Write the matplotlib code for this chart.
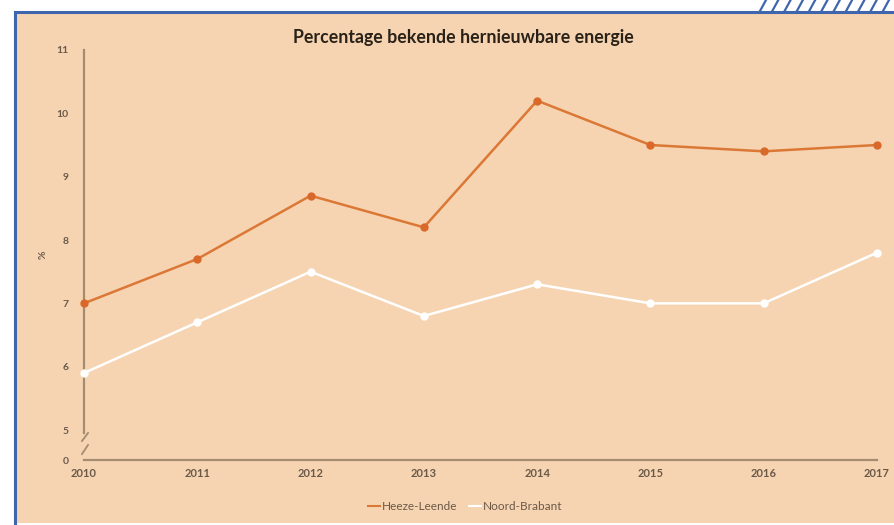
import matplotlib
matplotlib.use("Agg")
import matplotlib.pyplot as plt
from matplotlib.lines import Line2D
from matplotlib.patches import Rectangle

# ---- data ----
years = [2010, 2011, 2012, 2013, 2014, 2015, 2016, 2017]
heeze_leende = [7.0, 7.7, 8.7, 8.2, 10.2, 9.5, 9.4, 9.5]
noord_brabant = [5.9, 6.7, 7.5, 6.8, 7.3, 7.0, 7.0, 7.8]
series_names = ["Heeze-Leende", "Noord-Brabant"]
ytick_values = [5, 6, 7, 8, 9, 10, 11]
ytick_labels = ["5", "6", "7", "8", "9", "10", "11"]
title = "Percentage bekende hernieuwbare energie"

plt.rcParams['font.family'] = ['Lato', 'DejaVu Sans']

W, H = 894, 525
fig = plt.figure(figsize=(W / 100, H / 100), dpi=100)
fig.patch.set_facecolor("white")

def fx(px):
    return px / W

def fy(py):
    return 1 - py / H

peach = "#f6d4b2"
blue = "#3f66ad"
axcol = "#a58c70"
txtcol = "#6b5948"
orange = "#dc7836"

# panel
fig.patches.append(Rectangle((fx(15), fy(523)), 1 - fx(15), fy(12) - fy(523),
                             transform=fig.transFigure, facecolor=peach,
                             edgecolor="none", zorder=-10))
fig.lines.append(Line2D([fx(15), fx(15)], [fy(523), fy(12)], transform=fig.transFigure,
                        color=blue, lw=2.2, zorder=-5))
fig.lines.append(Line2D([fx(15), 1], [fy(12), fy(12)], transform=fig.transFigure,
                        color=blue, lw=2.2, zorder=-5))
# hatch strip top right
x0 = 760
while x0 < W + 6:
    fig.lines.append(Line2D([fx(x0), fx(x0 + 6)], [fy(11), fy(0)], transform=fig.transFigure,
                            color=blue, lw=1.6, zorder=-5))
    x0 += 12.3

# axes
ax = fig.add_axes([fx(84), fy(460), fx(877) - fx(84), fy(50) - fy(460)])
ax.set_zorder(5)
ax.set_facecolor("none")
unit = (430 - 50) / 6.0
ybot = 5 - (460 - 430) / unit
ax.set_xlim(years[0], years[-1])
ax.set_ylim(ybot, 11)

ax.plot(years, heeze_leende, color=orange, lw=1.8, marker="o", ms=5,
        mfc="#d9692a", mec="#d9692a", clip_on=False, zorder=3, label=series_names[0])
ax.plot(years, noord_brabant, color="white", lw=1.8, marker="o", ms=5,
        mfc="white", mec="white", clip_on=False, zorder=3, label=series_names[1])

for s in ["top", "right"]:
    ax.spines[s].set_visible(False)
for s in ["left", "bottom"]:
    ax.spines[s].set_color(axcol)
    ax.spines[s].set_linewidth(1.6)
ax.spines["left"].set_bounds(ybot + 0.42, 11)

ax.set_yticks([ybot] + ytick_values)
ax.set_yticklabels(["0"] + ytick_labels)
ax.set_xticks(years)
ax.set_xticklabels([str(y) for y in years])
ax.tick_params(axis="y", length=0, pad=11, labelsize=7.5, labelcolor=txtcol)
ax.tick_params(axis="x", length=0, pad=6, labelsize=8, labelcolor=txtcol)
for lab in ax.get_xticklabels() + ax.get_yticklabels():
    lab.set_fontweight("bold")

# axis break marks
for yb in [(433, 441), (445, 454)]:
    fig.lines.append(Line2D([fx(82), fx(88)], [fy(yb[1]), fy(yb[0])], transform=fig.transFigure,
                            color=axcol, lw=1.3, zorder=6))

fig.text(fx(463), fy(37), title, ha="center", va="center", fontsize=12.8,
         fontweight="bold", color="#2a2218")
fig.text(fx(43), fy(255), "%", ha="center", va="center", fontsize=7.5,
         rotation=90, color=txtcol, fontweight="bold")

handles = [Line2D([], [], color=orange, lw=1.5), Line2D([], [], color="white", lw=1.5)]
leg = fig.legend(handles, series_names, loc="center", bbox_to_anchor=(fx(465), fy(507)),
                 ncol=2, frameon=False, fontsize=8.5, handlelength=1.0, handletextpad=0.15,
                 columnspacing=1.0)
for t in leg.get_texts():
    t.set_color(txtcol)

fig.savefig("out.png", dpi=100, facecolor=fig.get_facecolor())
